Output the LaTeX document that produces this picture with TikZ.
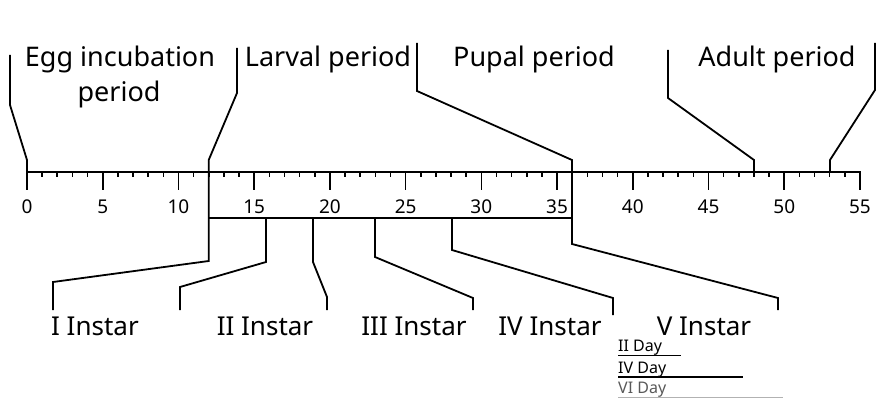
\documentclass[tikz,border=0pt]{standalone}
\usepackage{fontspec}
\setmainfont{Noto Sans}
\begin{document}
\begin{tikzpicture}[x=1pt,y=-1pt,
  axisline/.style={line width=1.8pt, line cap=rect},
  tickline/.style={line width=1.6pt},
  bracket/.style={line width=1.8pt, line join=miter},
  period/.style={font=\fontsize{27}{30}\selectfont, anchor=base, inner sep=0pt},
  instar/.style={font=\fontsize{26}{30}\selectfont, anchor=base, inner sep=0pt},
  ticklabel/.style={font=\fontsize{19}{22}\selectfont, anchor=base, inner sep=0pt},
  daylabel/.style={font=\fontsize{16}{18}\selectfont, anchor=base west, inner sep=0pt},
  dayline/.style={line width=1.6pt}]
\useasboundingbox (0,0) rectangle (877,398);

% axis
\coordinate (a0) at (27,172);
\coordinate (a55) at (860,172);
\draw[axisline] (a0) -- (a55);
\foreach \i in {0,...,55} {
  \draw[tickline] ({27+15.145*\i},172) -- ({27+15.145*\i},177);
}
\foreach \i in {0,5,...,55} {
  \draw[tickline] ({27+15.145*\i},172) -- ({27+15.145*\i},190);
  \node[ticklabel] (t\i) at ({27+15.145*\i},213) {\i};
}

% upper brackets
\coordinate (u0a) at (27,172);   \coordinate (u0b) at (27,160);
\coordinate (u0c) at (10,105);   \coordinate (u0d) at (10,55);
\coordinate (u12a) at (208.7,172); \coordinate (u12b) at (208.7,160);
\coordinate (u12c) at (237,93);  \coordinate (u12d) at (237,48);
\coordinate (u36a) at (572,218); \coordinate (u36b) at (572,160);
\coordinate (u36c) at (417,91);  \coordinate (u36d) at (417,43);
\coordinate (u48a) at (754,172); \coordinate (u48b) at (754,160);
\coordinate (u48c) at (668,98);  \coordinate (u48d) at (668,50);
\coordinate (u53a) at (830,172); \coordinate (u53b) at (830,160);
\coordinate (u53c) at (875,90);  \coordinate (u53d) at (875,43);
\draw[bracket] (u0a) -- (u0b) -- (u0c) -- (u0d);
\draw[bracket] (u12a) -- (u12b) -- (u12c) -- (u12d);
\draw[bracket] (u36a) -- (u36b) -- (u36c) -- (u36d);
\draw[bracket] (u48a) -- (u48b) -- (u48c) -- (u48d);
\draw[bracket] (u53a) -- (u53b) -- (u53c) -- (u53d);

% period labels
\node[period] (egg1) at (120,67) {Egg incubation};
\node[period] (egg2) at (119,102) {period};
\node[period] (larval) at (328,67) {Larval period};
\node[period] (pupal) at (534,67) {Pupal period};
\node[period] (adult) at (777,67) {Adult period};

% lower bar
\coordinate (h12) at (208.7,218);
\coordinate (h36) at (572,218);
\draw[bracket] (h12) -- (h36);

\coordinate (l12a) at (208.7,172); \coordinate (l12b) at (208.7,261);
\coordinate (l12c) at (53,282);    \coordinate (l12d) at (53,310);
\coordinate (l16a) at (266,218);   \coordinate (l16b) at (266,262);
\coordinate (l16c) at (180,287);   \coordinate (l16d) at (180,310);
\coordinate (l19a) at (313,218);   \coordinate (l19b) at (313,262);
\coordinate (l19c) at (327,297);   \coordinate (l19d) at (327,310);
\coordinate (l23a) at (375,218);   \coordinate (l23b) at (375,257);
\coordinate (l23c) at (473,298);   \coordinate (l23d) at (473,310);
\coordinate (l28a) at (452,218);   \coordinate (l28b) at (452,250);
\coordinate (l28c) at (613,298);   \coordinate (l28d) at (613,315);
\coordinate (l36a) at (572,218);   \coordinate (l36b) at (572,244);
\coordinate (l36c) at (778,298);   \coordinate (l36d) at (778,310);
\draw[bracket] (l12a) -- (l12b) -- (l12c) -- (l12d);
\draw[bracket] (l16a) -- (l16b) -- (l16c) -- (l16d);
\draw[bracket] (l19a) -- (l19b) -- (l19c) -- (l19d);
\draw[bracket] (l23a) -- (l23b) -- (l23c) -- (l23d);
\draw[bracket] (l28a) -- (l28b) -- (l28c) -- (l28d);
\draw[bracket] (l36a) -- (l36b) -- (l36c) -- (l36d);

% instar labels
\node[instar] (i1) at (95,335) {I Instar};
\node[instar] (i2) at (265,335) {II Instar};
\node[instar] (i3) at (414,335) {III Instar};
\node[instar] (i4) at (550,335) {IV Instar};
\node[instar] (i5) at (704,335) {V Instar};

% day legend
\node[daylabel] (d2) at (618,351) {II Day};
\node[daylabel] (d4) at (618,373) {IV Day};
\node[daylabel, text=black!65] (d6) at (618,393) {VI Day};
\coordinate (d2e) at (681,355.5);
\coordinate (d4e) at (743,377);
\coordinate (d6e) at (783,397);
\draw[dayline] (d2.base west) ++(0,4.5) -- (d2e);
\draw[dayline] (d4.base west) ++(0,4) -- (d4e);
\draw[line width=0.8pt, black!30] (d6.base west) ++(0,4) -- (d6e);
\end{tikzpicture}
\end{document}
